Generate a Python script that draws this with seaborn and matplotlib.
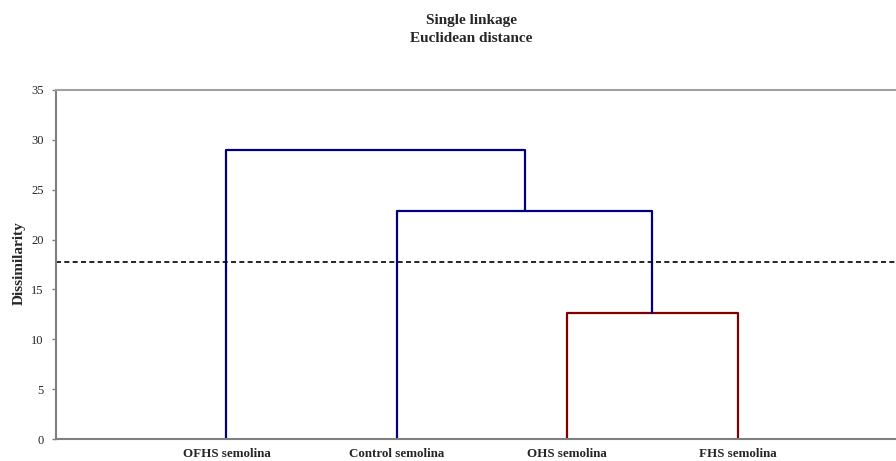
import pandas as pd
import numpy as np
import matplotlib
matplotlib.use('Agg')
import matplotlib.pyplot as plt
import seaborn as sns

# dendrogram data (single linkage, euclidean distance)
leaves = ['OFHS semolina', 'Control semolina', 'OHS semolina', 'FHS semolina']
# each merge: left node, right node, height, colour group
merge_left = [2, 1, 0]
merge_right = [3, 4, 5]
merge_height = [12.6, 22.9, 29.0]
merge_group = ['red', 'blue', 'blue']
cut_level = 17.8
yticks = [0, 5, 10, 15, 20, 25, 30, 35]

# node positions: leaves 1..n, then clusters at midpoints
node_x = {i: i + 1.0 for i in range(len(leaves))}
node_h = {i: 0.0 for i in range(len(leaves))}
rows = []
for k, (a, b, h, g) in enumerate(zip(merge_left, merge_right, merge_height, merge_group)):
    xa, xb = node_x[a], node_x[b]
    for px, py in [(xa, node_h[a]), (xa, h), (xb, h), (xb, node_h[b])]:
        rows.append({'link': k, 'x': px, 'y': py, 'group': g})
    new = len(leaves) + k
    node_x[new] = (xa + xb) / 2
    node_h[new] = h
df = pd.DataFrame(rows)

sns.set_style('white')
plt.rcParams['font.family'] = ['Liberation Serif', 'DejaVu Serif']

fig = plt.figure(figsize=(8.96, 4.61), dpi=100)
ax = fig.add_axes([56 / 896, 1 - 439 / 461, 1 - 56 / 896, 349 / 461])

ax = sns.lineplot(data=df, x='x', y='y', units='link', estimator=None, sort=False,
                  hue='group', palette={'blue': '#000080', 'red': '#800000'},
                  linewidth=1.6, legend=False, ax=ax)
ax.axhline(cut_level, color='black', linestyle=(0, (3, 2)), linewidth=1.2)

ax.set_xlim(0, 4.93)
ax.set_ylim(0, 35)
ax.set_yticks(yticks)
ax.set_xticks([1, 2, 3, 4])
ax.set_xticklabels(leaves, fontweight='bold', fontsize=9.4)
ax.tick_params(axis='x', length=0, pad=6.5)
ax.tick_params(axis='y', direction='out', length=3, width=1, color='#808080', labelsize=9, pad=6, left=True)
ax.set_xlabel('')
ax.set_ylabel('Dissimilarity', fontweight='bold', fontsize=11)
ax.yaxis.set_label_coords(-0.036, 0.505)

for s in ['left', 'bottom']:
    ax.spines[s].set_color('#808080')
    ax.spines[s].set_linewidth(1.5)
ax.spines['top'].set_color('#a0a0a0')
ax.spines['top'].set_linewidth(1.5)
ax.spines['right'].set_visible(False)

fig.text(0.526, 0.936, 'Single linkage\nEuclidean distance', ha='center', va='center',
         fontweight='bold', fontsize=11, linespacing=1.45)

plt.savefig('out.png', dpi=100)
